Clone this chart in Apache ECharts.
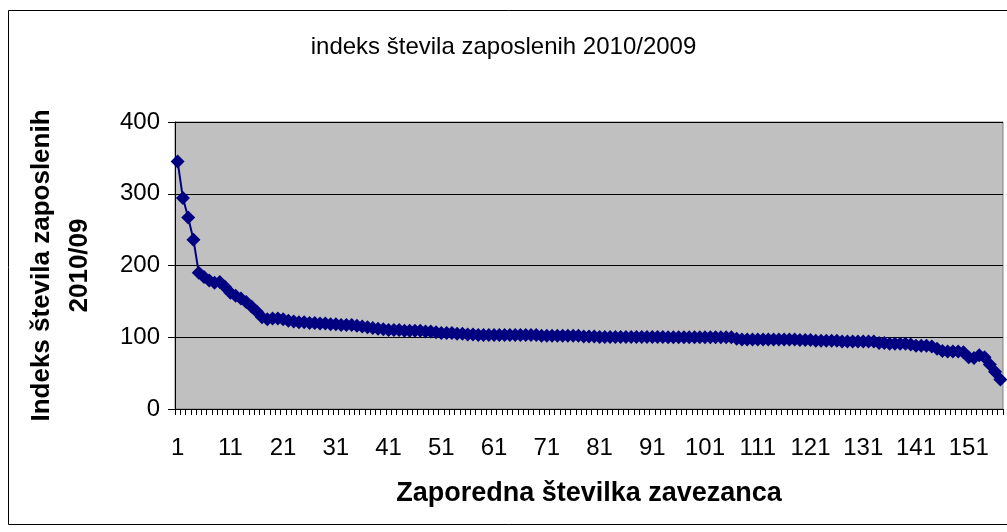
<!DOCTYPE html>
<html>
<head>
<meta charset="utf-8">
<title>indeks števila zaposlenih 2010/2009</title>
<script src="https://cdn.jsdelivr.net/npm/echarts@6/dist/echarts.min.js"></script>
<style>
  html, body { margin: 0; padding: 0; background: #ffffff; }
  #chart { width: 1007px; height: 532px; }
</style>
</head>
<body>
<div id="chart"></div>
<script>
// Index of number of employees 2010/2009, one value per taxpayer (ordered)
const chartTitle = 'indeks števila zaposlenih 2010/2009';
const xAxisTitle = 'Zaporedna številka zavezanca';
const yAxisTitle = 'Indeks števila zaposlenih\n2010/09';

const indexValues = [
  345, 294, 267, 236, 190, 184, 179, 176, 177, 170,
  162, 158, 154, 149, 143, 136, 128, 125, 126, 126,
  125, 123, 122, 121, 121, 120, 120, 119, 119, 118,
  118, 117, 117, 117, 116, 115, 114, 113, 112, 111,
  110, 110, 110, 109, 109, 109, 109, 108, 108, 107,
  106, 106, 106, 105, 105, 104, 104, 103, 103, 103,
  103, 103, 103, 103, 103, 103, 103, 103, 103, 102,
  102, 102, 102, 102, 102, 102, 102, 101, 101, 101,
  100.5, 100.5, 100.5, 100.5, 100.5, 100.5, 100.5, 100.5, 100.5, 100.5,
  100.5, 100.5, 100.5, 100, 100, 100, 100, 100, 100, 100,
  100, 100, 100, 100, 100, 100, 98, 97, 97, 97,
  97, 97, 97, 97, 97, 97, 97, 97, 96, 96,
  96, 95, 95, 95, 95, 95, 94, 94, 94, 94,
  94, 94, 94, 92, 92, 91, 91, 91, 91, 90,
  88, 88, 88, 87, 84, 81, 80, 80, 80, 79,
  72, 71, 75, 72, 62, 52, 41
];

// Category labels: running number of each taxpayer
const categories = indexValues.map((_, i) => String(i + 1));

const yTicks = { min: 0, max: 400, interval: 100 };

const FONT = '"Liberation Sans", Arial, sans-serif';

const chart = echarts.init(document.getElementById('chart'), null, { renderer: 'canvas' });

chart.setOption({
  backgroundColor: '#ffffff',
  animation: false,
  title: {
    text: chartTitle,
    left: 'center',
    top: 30,
    textStyle: { fontFamily: FONT, fontSize: 24, fontWeight: 'normal', color: '#000000' }
  },
  graphic: [{
    type: 'rect',
    shape: { x: 8.5, y: 10.5, width: 1010, height: 514 },
    style: { fill: 'none', stroke: '#000000', lineWidth: 1 },
    silent: true,
    z: -1
  }],
  grid: {
    left: 175,
    right: 4,
    top: 122,
    bottom: 123,
    show: true,
    backgroundColor: '#C0C0C0',
    borderColor: '#808080',
    borderWidth: 1
  },
  xAxis: {
    type: 'category',
    data: categories,
    boundaryGap: true,
    name: xAxisTitle,
    nameLocation: 'middle',
    nameGap: 71,
    nameTextStyle: { fontFamily: FONT, fontSize: 27, fontWeight: 'bold', color: '#000000' },
    axisLine: { show: true, lineStyle: { color: '#000000', width: 1 } },
    axisTick: { show: true, interval: 0, length: 6, inside: false, lineStyle: { color: '#000000', width: 1 } },
    axisLabel: { interval: 9, margin: 27, fontFamily: FONT, fontSize: 24, color: '#000000' },
    splitLine: { show: false }
  },
  yAxis: {
    type: 'value',
    min: yTicks.min,
    max: yTicks.max,
    interval: yTicks.interval,
    name: yAxisTitle,
    nameLocation: 'middle',
    nameRotate: 90,
    nameGap: 76,
    nameTextStyle: { fontFamily: FONT, fontSize: 26, fontWeight: 'bold', color: '#000000', lineHeight: 38, align: 'center' },
    axisLine: { show: true, lineStyle: { color: '#000000', width: 1 } },
    axisTick: { show: true, length: 7, inside: false, lineStyle: { color: '#000000', width: 1 } },
    axisLabel: { margin: 15, fontFamily: FONT, fontSize: 24, color: '#000000' },
    splitLine: { show: true, lineStyle: { color: '#000000', width: 1 } }
  },
  series: [{
    type: 'line',
    data: indexValues,
    symbol: 'diamond',
    symbolSize: 14,
    showAllSymbol: true,
    lineStyle: { color: '#000080', width: 2 },
    itemStyle: { color: '#000080' },
    emphasis: { disabled: true }
  }]
});
</script>
</body>
</html>
